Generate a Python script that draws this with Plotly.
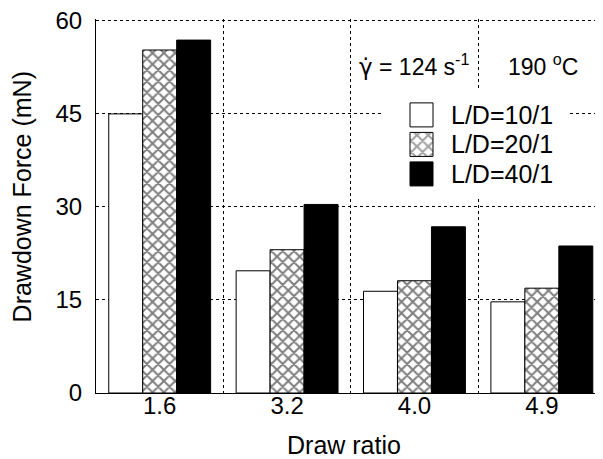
import plotly.graph_objects as go

# ---- data ----
draw_ratio = ["1.6", "3.2", "4.0", "4.9"]
series_names = ["L/D=10/1", "L/D=20/1", "L/D=40/1"]
force_ld10 = [45.0, 19.7, 16.4, 14.7]
force_ld20 = [55.3, 23.1, 18.1, 16.9]
force_ld40 = [56.9, 30.4, 26.8, 23.7]
y_tick_vals = [0, 15, 30, 45, 60]
y_tick_text = ["0", "15", "30", "45", "60"]

FONT = "Liberation Sans, Arial, Helvetica, sans-serif"

fills = ["white", "white", "black"]
shapes_pat = ["", "x", ""]
PAT = dict(fgcolor="black", size=8, solidity=0.45)

# page body has an 8px margin; the figure is placed at (8, 8) in the window
OFF = 8
W, H = 603 - OFF, 459 - OFF
YMIN, YMAX = 0, 60.3
PL, PR, PB = 96, 603, 393                   # plot area in window pixels
PT = PB - 6.2 * (YMAX - YMIN)
L, R, T, B = PL - OFF, W - (PR - OFF), PT - OFF, H - (PB - OFF)
pw, ph = PR - PL, PB - PT
XMIN, XMAX = -0.5, 3.48


def fx(sx):   # window px -> paper x
    return (sx - PL) / pw


def fy(sy):   # window px -> paper y
    return (PB - sy) / ph


fig = go.Figure()
for name, vals, fc, sp in zip(series_names, [force_ld10, force_ld20, force_ld40], fills, shapes_pat):
    fig.add_trace(go.Bar(
        x=draw_ratio, y=vals, name=name, showlegend=False,
        marker=dict(color=fc, line=dict(color="black", width=1),
                    pattern=dict(shape=sp, **PAT)),
    ))

# legend box: a small helper subplot whose axes are measured in window pixels
LEG_X0, LEG_X1, LEG_Y0, LEG_Y1 = 383, 570, 90, 199
row_y = [115, 144.5, 174]
fig.add_trace(go.Bar(
    y=row_y, x=[23, 23, 23], base=[410, 410, 410], orientation="h",
    xaxis="x2", yaxis="y2", width=24, showlegend=False, hoverinfo="skip",
    marker=dict(color=fills, line=dict(color="black", width=1),
                pattern=dict(shape=shapes_pat, **PAT)),
))

fig.update_layout(
    width=W, height=H,
    margin=dict(l=L, r=R, t=T, b=B, pad=0, autoexpand=False),
    paper_bgcolor="white", plot_bgcolor="white",
    barmode="group", bargap=0.2, bargroupgap=0,
    font=dict(family=FONT, color="black", size=24),
    xaxis=dict(
        type="category", range=[XMIN, XMAX], tickson="boundaries", automargin=False,
        ticks="", showgrid=True, gridcolor="black", gridwidth=1, griddash="3px,3px",
        showline=True, linecolor="black", linewidth=1, zeroline=False,
        tickfont=dict(size=24), ticklabelstandoff=-9,
    ),
    yaxis=dict(
        range=[YMIN, YMAX], tickmode="array", tickvals=y_tick_vals, ticktext=y_tick_text,
        automargin=False, ticklabeloverflow="allow",
        ticks="", showgrid=True, gridcolor="black", gridwidth=1, griddash="3px,3px",
        showline=True, linecolor="black", linewidth=1, zeroline=False,
        tickfont=dict(size=24), ticklabelstandoff=8,
    ),
    xaxis2=dict(domain=[fx(LEG_X0), fx(LEG_X1)], range=[LEG_X0, LEG_X1], anchor="y2",
                visible=False, fixedrange=True),
    yaxis2=dict(domain=[fy(LEG_Y1), fy(LEG_Y0)], range=[LEG_Y1, LEG_Y0], anchor="x2",
                visible=False, fixedrange=True),
    shapes=[dict(type="rect", xref="x2", yref="y2", layer="below",
                 x0=LEG_X0, x1=LEG_X1, y0=LEG_Y0, y1=LEG_Y1,
                 fillcolor="white", line=dict(width=0))],
)

ann = []
for i, name in enumerate(series_names):
    ann.append(dict(xref="paper", yref="paper", x=fx(449), y=fy(row_y[i]),
                    xanchor="left", yanchor="middle", showarrow=False, text=name,
                    font=dict(size=25)))
ann.append(dict(xref="paper", yref="paper", x=fx(357), y=fy(65),
                xanchor="left", yanchor="middle", showarrow=False,
                text="<span style=\"font-family:DejaVu Sans\">\u03b3\u0307</span> = 124 s<sup>-1</sup>",
                font=dict(size=23)))
ann.append(dict(xref="paper", yref="paper", x=fx(506), y=fy(65),
                xanchor="left", yanchor="middle", showarrow=False,
                text="190 <sup>o</sup>C", font=dict(size=23)))
# axis titles
ann.append(dict(xref="paper", yref="paper", x=fx(343.5), y=fy(445),
                xanchor="center", yanchor="middle", showarrow=False,
                text="Draw ratio", font=dict(size=25)))
ann.append(dict(xref="paper", yref="paper", x=fx(21.5), y=fy(197),
                xanchor="center", yanchor="middle", showarrow=False, textangle=-90,
                text="Drawdown Force (mN)", font=dict(size=25)))
fig.update_layout(annotations=ann)

fig.write_html("out.html")
